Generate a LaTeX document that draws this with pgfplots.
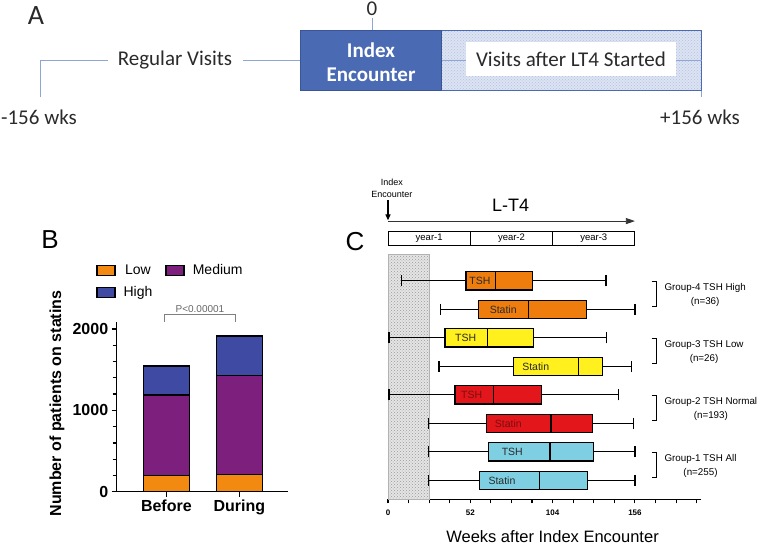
\documentclass[border=0pt]{standalone}
\usepackage{fontspec}
\setmainfont{Liberation Sans}
\newfontfamily\carlito{Carlito}
\usepackage{pgfplots}
\pgfplotsset{compat=1.18}
\usepgfplotslibrary{statistics}
\usetikzlibrary{patterns,arrows.meta}

\definecolor{tlblue}{HTML}{8EA6D6}
\definecolor{tdblue}{HTML}{4A6AB4}
\definecolor{tdedge}{HTML}{3A5597}
\definecolor{tpale}{HTML}{DCE3F2}
\definecolor{tdots}{HTML}{B4C2E2}
\definecolor{lowc}{HTML}{F28A12}
\definecolor{medc}{HTML}{7D1F7D}
\definecolor{highc}{HTML}{3F4BA3}
\definecolor{corange}{HTML}{EE7D0E}
\definecolor{cyellow}{HTML}{FFF01E}
\definecolor{cred}{HTML}{E3161B}
\definecolor{ccyan}{HTML}{7ECFE2}
\definecolor{txtgray}{HTML}{2A2A2A}
\definecolor{darkred}{HTML}{7A1010}

\newcommand\fs[1]{\fontsize{#1}{#1}\selectfont}

\begin{document}
\begin{tikzpicture}
\path[use as bounding box] (0pt,0pt) rectangle (758pt,-546pt);

% ---- panel A: timeline
\begin{scope}[x=1pt,y=-1pt,font=\carlito\fs{21},text=txtgray]
\node at (36,16) {\fs{28}A};
\draw[tlblue, line width=1pt] (40,97) -- (40,60) -- (108,60);
\draw[tlblue, line width=1pt] (243,60) -- (300,60);
\draw[tlblue, line width=1pt] (372,18) -- (372,31);
\draw[tlblue, line width=1pt] (701.7,90) -- (701.7,97);
\node at (175,60) {Regular Visits};
\node at (39,117) {-156 wks};
\node at (700,117) {+156 wks};
\node at (372,9) {0};
\fill[tpale] (441.7,30.7) rectangle (701.7,90);
\fill[pattern=crosshatch dots, pattern color=tdots] (441.7,30.7) rectangle (701.7,90);
\draw[tdblue, line width=1pt] (441.7,30.7) rectangle (701.7,90);
\draw[tlblue, line width=1pt] (441.7,60) -- (701.7,60);
\fill[white] (466,41.7) rectangle (676,76);
\node at (571,59) {Visits after LT4 Started};
\draw[fill=tdblue, draw=tdedge, line width=1pt] (300,30.7) rectangle (441.7,90);
\node[text=white, font=\carlito\bfseries\fs{21}, align=center] at (371,62) {Index\\[3pt]Encounter};
\end{scope}

% ---- panel B: stacked bars
\node[font=\fs{26}] at (50pt,-240pt) {B};
\begin{axis}[
    at={(116.7pt,-491.7pt)}, anchor=south west, scale only axis,
    width=171.6pt, height=170pt,
    ybar stacked, bar width=46pt,
    xmin=-0.68, xmax=1.67, ymin=0, ymax=2090,
    axis x line*=bottom, axis y line*=left,
    axis line style={line width=1.5pt, -},
    xtick={0,1}, xticklabels={Before,During},
    ytick={0,1000,2000}, minor ytick={200,400,600,800,1200,1400,1600,1800},
    tick align=outside, major tick length=5pt, minor tick length=4pt,
    tick style={black, line width=1.2pt},
    /pgf/number format/assume math mode=true,
    /pgf/number format/1000 sep={},
    scaled y ticks=false,
    yticklabel style={font=\bfseries\fs{16}},
    xticklabel style={font=\bfseries\fs{16}},
    ylabel={Number of patients on statins},
    every axis y label/.style={at={(axis description cs:-0.348,0.519)}, rotate=90, anchor=center, font=\bfseries\fs{16}},
    legend columns=2,
    legend style={at={(axis description cs:-0.138,1.36)}, anchor=north west, draw=none, fill=none,
        font=\fs{14}, row sep=6pt, /tikz/every even column/.append style={column sep=11pt}},
    legend image code/.code={\draw[#1, draw=black, line width=1.3pt] (0pt,-5pt) rectangle (18pt,5pt);
        \path (24pt,0pt);},
    clip=false,
]
\addplot[fill=lowc, draw=black, line width=1.5pt] coordinates {(0,197) (1,214)};
\addlegendentry{Low}
\addplot[fill=medc, draw=black, line width=1.5pt] coordinates {(0,992) (1,1213)};
\addlegendentry{Medium}
\addplot[fill=highc, draw=black, line width=1.5pt] coordinates {(0,357) (1,488)};
\addlegendentry{High}
\draw[gray, line width=0.8pt] (axis cs:-0.03,2091) |- (axis cs:0.95,2182) -- (axis cs:0.95,2091);
\node[text=gray!80!black, font=\fs{10}] at (axis cs:0.46,2245) {P<0.00001};
\end{axis}

% ---- panel C: box plots
\node[font=\fs{26}] at (355pt,-242pt) {C};
\begin{axis}[
    at={(388pt,-499.3pt)}, anchor=south west, scale only axis,
    width=313.4pt, height=245.3pt,
    xmin=0, xmax=198, ymin=0.333, ymax=8.94,
    axis x line*=bottom, axis y line=none, ytick=\empty,
    axis line style={line width=1.3pt, -},
    xtick={0,52,104,156}, minor xtick={13,26,39,65,78,91,117,130,143,169,182,195},
    tick align=outside, major tick length=4pt, minor tick length=4pt,
    tick style={black, line width=1.1pt},
    xticklabel style={font=\bfseries\fs{8}, yshift=-3pt},
    /pgf/number format/assume math mode=true,
    xlabel={Weeks after Index Encounter},
    every axis x label/.style={at={(axis description cs:0.525,-0.1525)}, anchor=center, font=\fs{16.5}},
    boxplot/draw direction=x,
    boxplot/box extend=0.64,
    boxplot/whisker extend=0.4,
    clip=false,
]
% shaded first-26-weeks window
\addplot[draw=gray!60, fill=gray!20, postaction={pattern=crosshatch dots, pattern color=gray!80}]
    coordinates {(0,0.333) (26,0.333) (26,8.94) (0,8.94) (0,0.333)};

% group 4, TSH high
\addplot[boxplot prepared={draw position=8, lower whisker=8.6, lower quartile=49.3,
    median=67.8, upper quartile=91.4, upper whisker=137.7}, draw=black, fill=corange, line width=1.2pt] coordinates {};
\addplot[boxplot prepared={draw position=7, lower whisker=33.3, lower quartile=57,
    median=89, upper quartile=125.5, upper whisker=156}, draw=black, fill=corange, line width=1.2pt] coordinates {};
% group 3, TSH low
\addplot[boxplot prepared={draw position=6, lower whisker=0.6, lower quartile=36,
    median=62.7, upper quartile=91.8, upper whisker=138}, draw=black, fill=cyellow, line width=1.2pt] coordinates {};
\addplot[boxplot prepared={draw position=5, lower whisker=32.2, lower quartile=79.2,
    median=120.5, upper quartile=135.4, upper whisker=154}, draw=black, fill=cyellow, line width=1.2pt] coordinates {};
% group 2, TSH normal
\addplot[boxplot prepared={draw position=4, lower whisker=0.6, lower quartile=42.3,
    median=66.8, upper quartile=97, upper whisker=145.5}, draw=black, fill=cred, line width=1.2pt] coordinates {};
\addplot[boxplot prepared={draw position=3, lower whisker=25.5, lower quartile=62.3,
    median=103, upper quartile=129, upper whisker=155}, draw=black, fill=cred, line width=1.2pt] coordinates {};
% group 1, TSH all
\addplot[boxplot prepared={draw position=2, lower whisker=25.5, lower quartile=63.4,
    median=102.3, upper quartile=130, upper whisker=156}, draw=black, fill=ccyan, line width=1.2pt] coordinates {};
\addplot[boxplot prepared={draw position=1, lower whisker=25.5, lower quartile=57.7,
    median=95.6, upper quartile=125.9, upper whisker=156}, draw=black, fill=ccyan, line width=1.2pt] coordinates {};

\begin{scope}[font=\fs{10.5}, text=txtgray]
\node at (axis cs:58.1,8) {TSH};
\node at (axis cs:72.8,7) {Statin};
\node at (axis cs:49.1,6) {TSH};
\node at (axis cs:93.3,5) {Statin};
\node[text=darkred] at (axis cs:52.9,4) {TSH};
\node[text=darkred] at (axis cs:76,3) {Statin};
\node at (axis cs:78.5,2) {TSH};
\node at (axis cs:72,1) {Statin};
\end{scope}

% group brackets and names
\draw[black, line width=1pt] (axis cs:166.6,7.97) -| (axis cs:169.7,7.09) -- (axis cs:166.6,7.09);
\draw[black, line width=1pt] (axis cs:166.6,5.97) -| (axis cs:169.7,5.09) -- (axis cs:166.6,5.09);
\draw[black, line width=1pt] (axis cs:166.6,3.97) -| (axis cs:169.7,3.09) -- (axis cs:166.6,3.09);
\draw[black, line width=1pt] (axis cs:166.6,1.97) -| (axis cs:169.7,1.09) -- (axis cs:166.6,1.09);
\begin{scope}[font=\fontsize{9.8}{13.7}\selectfont, text=black]
\node[align=center, anchor=west] at (axis cs:172.5,7.5) {Group-4 TSH High\\(n=36)};
\node[align=center, anchor=west] at (axis cs:172.5,5.5) {Group-3 TSH Low\\(n=26)};
\node[align=center, anchor=west] at (axis cs:172.5,3.5) {Group-2 TSH Normal\\(n=193)};
\node[align=center, anchor=west] at (axis cs:172.5,1.5) {Group-1 TSH All\\(n=255)};
\end{scope}

% year bar, L-T4 arrow, index marker
\draw[black, line width=1pt] (axis cs:0,9.253) rectangle (axis cs:156,9.719);
\draw[black, line width=1pt] (axis cs:52,9.253) -- (axis cs:52,9.719);
\draw[black, line width=1pt] (axis cs:104,9.253) -- (axis cs:104,9.719);
\node[font=\fs{9.5}] at (axis cs:26,9.486) {year-1};
\node[font=\fs{9.5}] at (axis cs:78,9.486) {year-2};
\node[font=\fs{9.5}] at (axis cs:130,9.486) {year-3};
\draw[gray!40!black, line width=0.8pt, -{Triangle[length=9pt,width=6pt]}] (axis cs:0,10.095) -- (axis cs:156,10.095);
\draw[black, line width=1.2pt, -{Triangle[length=6pt,width=5pt]}] (axis cs:0,10.83) -- (axis cs:0,10.12);
\node[font=\fs{18}] at (axis cs:77.4,10.66) {L-T4};
\node[font=\fontsize{9}{12}\selectfont, align=center] at (axis cs:2.5,11.25) {Index\\Encounter};
\end{axis}
\end{tikzpicture}
\end{document}
